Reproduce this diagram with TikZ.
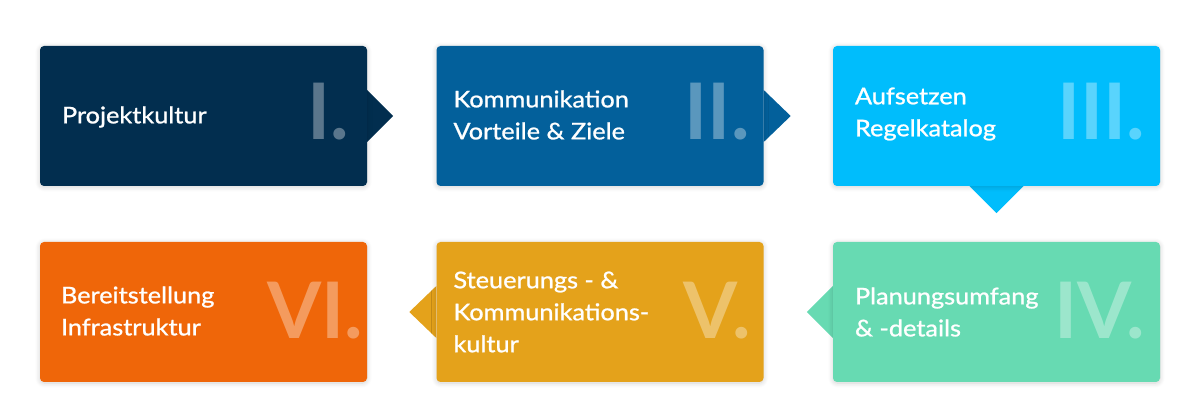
\documentclass[tikz,border=0pt]{standalone}
\usepackage{fontspec}
\setmainfont{Lato}
\newfontfamily\stepfont[FakeStretch=1.1, FakeBold=1]{Lato}
\usepackage{xcolor}
\usetikzlibrary{positioning}
\usetikzlibrary{calc}
\usetikzlibrary{shadows.blur}
\definecolor{stepnavy}{HTML}{022E4F}
\definecolor{stepblue}{HTML}{03609B}
\definecolor{stepcyan}{HTML}{00BDFC}
\definecolor{stepmint}{HTML}{67DAB2}
\definecolor{stepgold}{HTML}{E4A21B}
\definecolor{steporange}{HTML}{EF6609}
\pgfdeclarelayer{background}
\pgfsetlayers{background,main}

\begin{document}
\begin{tikzpicture}[x=1pt, y=-1pt,
    stepbox/.style={minimum width=327pt, minimum height=140pt, inner sep=0pt,
      rounded corners=4pt,
      blur shadow={shadow xshift=0pt, shadow yshift=-1pt, shadow opacity=18,
        shadow blur radius=5pt, shadow blur steps=8}},
    steptext/.style={anchor=west, align=left, text=white, inner sep=0pt,
      font=\stepfont\fontsize{23}{32}\selectfont},
    stepnum/.style={anchor=base east, inner sep=0pt, text=white, text opacity=0.35,
      font=\fontsize{78}{78}\selectfont\bfseries}]
  \useasboundingbox (0,0) rectangle (1200,411);
  % Draw boxes
  \node[stepbox, fill=stepnavy] (b1) at (203.5,116) {};
  \node[stepbox, fill=stepblue] (b2) at (600,116) {};
  \node[stepbox, fill=stepcyan] (b3) at (996.5,116) {};
  \node[stepbox, fill=stepmint] (b4) at (996.5,312) {};
  \node[stepbox, fill=stepgold] (b5) at (600,312) {};
  \node[stepbox, fill=steporange] (b6) at (203.5,312) {};
  % Pointers between the boxes
  \begin{pgfonlayer}{background}
    \fill[stepnavy] ([yshift=26pt]b1.east) -- ++(26pt,-26pt) -- ([yshift=-26pt]b1.east) -- cycle;
    \fill[stepblue] ([yshift=26pt]b2.east) -- ++(27pt,-26pt) -- ([yshift=-26pt]b2.east) -- cycle;
    \fill[stepcyan] ([xshift=-27pt]b3.south) -- ++(27pt,-27pt) -- ([xshift=27pt]b3.south) -- cycle;
    \fill[stepmint] ([yshift=26pt]b4.west) -- ++(-26pt,-26pt) -- ([yshift=-26pt]b4.west) -- cycle;
    \fill[stepgold] ([yshift=26pt]b5.west) -- ++(-27pt,-26pt) -- ([yshift=-26pt]b5.west) -- cycle;
  \end{pgfonlayer}
  % Labels
  \node[steptext] (t1) at ([xshift=22pt, yshift=-1pt]b1.west) {Projektkultur};
  \node[steptext] (t2) at ([xshift=17pt, yshift=1pt]b2.west) {Kommunikation\\Vorteile \& Ziele};
  \node[steptext] (t3) at ([xshift=22pt, yshift=2pt]b3.west) {Aufsetzen\\Regelkatalog};
  \node[steptext] (t4) at ([xshift=22pt, yshift=0pt]b4.west) {Planungsumfang\\\& -details};
  \node[steptext] (t5) at ([xshift=17pt, yshift=0pt]b5.west) {Steuerungs - \&\\Kommunikations-\\kultur};
  \node[steptext] (t6) at ([xshift=21pt, yshift=1pt]b6.west) {Bereitstellung\\Infrastruktur};
  % Numbers
  \node[stepnum] (n1) at ([xshift=-18pt, yshift=-24pt]b1.east) {I.};
  \node[stepnum] (n2) at ([xshift=-14pt, yshift=-24pt]b2.east) {II.};
  \node[stepnum] (n3) at ([xshift=-15pt, yshift=-24pt]b3.east) {III.};
  \node[stepnum] (n4) at ([xshift=-15pt, yshift=-27pt]b4.east) {IV.};
  \node[stepnum] (n5) at ([xshift=-13pt, yshift=-27pt]b5.east) {V.};
  \node[stepnum] (n6) at ([xshift=-4pt, yshift=-27pt]b6.east) {VI.};
\end{tikzpicture}
\end{document}
